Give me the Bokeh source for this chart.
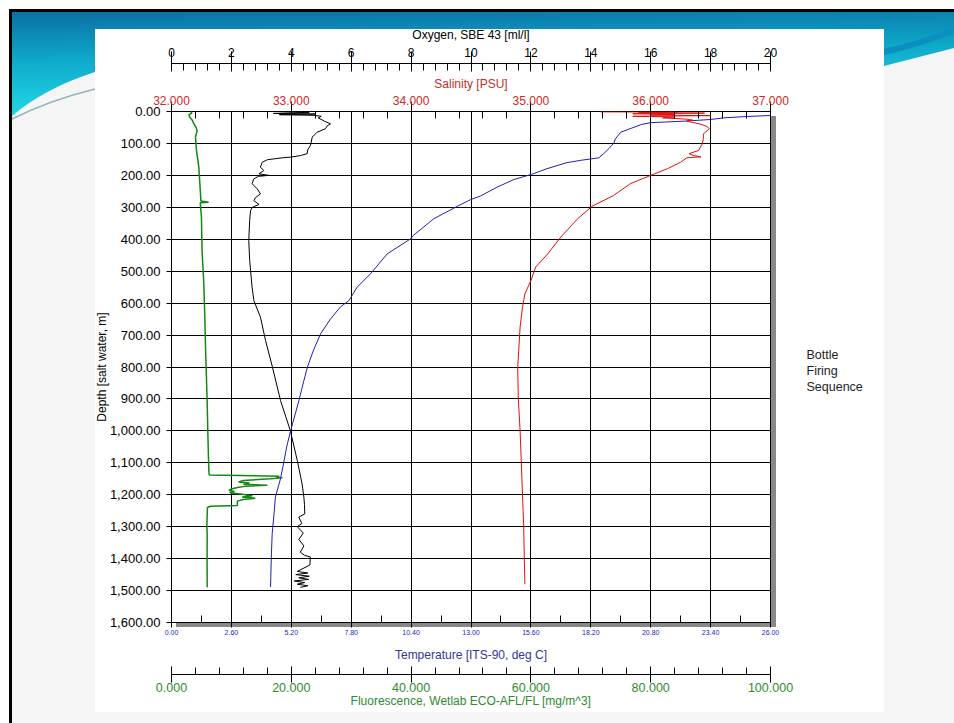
from urllib.parse import quote
from bokeh.plotting import figure
from bokeh.models import (Range1d, LinearAxis, Grid, FixedTicker, SingleIntervalTicker,
                          NumeralTickFormatter)
from bokeh.embed import file_html
from bokeh.resources import INLINE

# ---------------- data ----------------
temp_depth = [0, 5, 10, 12.5, 15.6, 19.9, 25, 30, 33, 35, 40.7, 54, 65, 85.5, 99, 115, 132, 145, 153,
              160, 179, 197, 213, 237, 265, 276, 297, 336, 388, 399, 446, 508, 550, 592, 612, 650,
              696, 750, 800, 850, 905, 1000, 1050, 1100, 1150, 1208, 1260, 1322, 1400, 1489]
temp_vals = [26.6, 26.4, 26.2, 26.0, 25.0, 23.97, 23.4, 22.3, 21.4, 20.8, 20.4, 19.9, 19.5, 19.27, 19.2,
             19.0, 18.76, 18.55, 17.75, 17.17, 16.3, 15.62, 14.86, 14.13, 13.4, 12.98, 12.4, 11.38,
             10.5, 10.37, 9.36, 8.64, 8.06, 7.7, 7.33, 6.9, 6.47, 6.15, 5.9, 5.72, 5.53, 5.17, 5.0,
             4.87, 4.73, 4.51, 4.45, 4.37, 4.33, 4.3]

sal_depth = [1, 2, 3, 5, 7, 9, 11, 13, 15, 17, 20, 24, 27, 30, 40, 47, 54, 70, 85, 101, 122, 132, 138,
             142, 145, 159, 179, 200, 226, 263, 297, 336, 393, 446, 487, 529, 571, 613, 675, 738, 800,
             900, 1000, 1100, 1200, 1300, 1400, 1480]
sal_vals = [35.58, 36.22, 35.9, 36.45, 35.85, 36.2, 36.0, 36.5, 35.85, 36.2, 36.1, 36.3, 36.35, 36.30,
            36.42, 36.47, 36.49, 36.44, 36.44, 36.43, 36.40, 36.32, 36.36, 36.42, 36.3, 36.25, 36.14,
            36.0, 35.83, 35.69, 35.51, 35.39, 35.25, 35.14, 35.04, 35.0, 34.95, 34.93, 34.91, 34.90,
            34.89, 34.895, 34.91, 34.92, 34.93, 34.94, 34.945, 34.95]

oxy_depth = [0, 4, 6, 8, 10, 12, 15, 20, 30, 38.6, 45, 54, 65, 80, 106, 120, 132, 138, 143, 145, 151,
             159, 174, 185, 195, 200, 203, 211, 226, 242, 258, 270, 279, 291, 300, 310, 341, 404, 466,
             550, 592, 644, 717, 800, 905, 1000, 1093, 1166, 1208, 1230, 1260, 1270, 1290, 1300, 1320,
             1340, 1360, 1380, 1390, 1395, 1420, 1440, 1445, 1450, 1455, 1460, 1465, 1470, 1475, 1480,
             1485, 1490]
oxy_vals = [3.5, 4.6, 3.4, 4.8, 3.6, 4.75, 5.0, 4.9, 5.1, 5.31, 5.2, 5.14, 4.86, 4.70, 4.64, 4.55, 4.53,
            4.31, 3.97, 3.70, 3.20, 3.03, 2.97, 3.08, 2.92, 3.25, 2.9, 2.75, 2.69, 2.86, 2.97, 2.8, 2.75,
            2.92, 2.7, 2.64, 2.61, 2.58, 2.61, 2.69, 2.75, 2.97, 3.14, 3.37, 3.64, 3.97, 4.20, 4.36, 4.42,
            4.44, 4.45, 4.25, 4.35, 4.2, 4.4, 4.25, 4.42, 4.3, 4.45, 4.64, 4.62, 4.2, 4.55, 4.15, 4.6,
            4.25, 4.58, 4.1, 4.45, 4.2, 4.55, 4.3]

fl_depth = [0, 5, 10, 18, 28, 38, 50, 60, 80, 122, 174, 258, 280, 284, 286, 331, 435, 540, 644, 738,
            905, 1009, 1124, 1138, 1142, 1145, 1147, 1150, 1155, 1160, 1163, 1167, 1170, 1173, 1177,
            1182, 1186, 1190, 1194, 1198, 1203, 1207, 1211, 1215, 1220, 1234, 1236, 1240, 1300, 1322,
            1400, 1479, 1490]
fl_vals = [3.2, 3.4, 2.9, 3.06, 3.5, 3.72, 4.1, 4.29, 4.0, 4.17, 4.56, 4.84, 4.9, 6.2, 4.8, 5.0, 5.1,
           5.4, 5.56, 5.68, 5.95, 6.07, 6.23, 6.3, 18.0, 17.5, 18.5, 16.5, 12.0, 11.2, 13.0, 12.0, 16.0,
           12.5, 11.0, 10.0, 9.6, 10.5, 9.7, 11.5, 13.5, 11.8, 14.0, 12.0, 11.0, 11.0, 6.5, 6.0, 5.9,
           5.96, 5.94, 5.96, 5.95]

temp_ticks = [0.0, 2.6, 5.2, 7.8, 10.4, 13.0, 15.6, 18.2, 20.8, 23.4, 26.0]
temp_minor = [1.3, 3.9, 6.5, 9.1, 11.7, 14.3, 16.9, 19.5, 22.1, 24.7]
side_text = ["Bottle", "Firing", "Sequence"]

FONT = "Liberation Sans"
FRAME_TOP, FRAME_H, DEPTH_MAX = 111, 511, 1600

# ---------------- slide background (decoration only, as CSS) ----------------
bg_svg = """<svg xmlns='http://www.w3.org/2000/svg' width='954' height='723'>
<defs><linearGradient id='g' x1='0' y1='0' x2='0.15' y2='1'>
<stop offset='0' stop-color='#0a70a4'/><stop offset='0.45' stop-color='#0ea8c9'/>
<stop offset='1' stop-color='#22dbe6'/></linearGradient></defs>
<rect width='954' height='723' fill='#ffffff'/>
<rect x='12' y='12' width='942' height='711' fill='#f5f5f5'/>
<path d='M12 12 L954 12 L954 48 Q915 58 884 66 L884 29 L95 29 L95 72 Q45 88 12 116 Z' fill='url(#g)'/>
<path d='M954 30 Q920 44 884 52' stroke='#0b8fc0' stroke-width='6' fill='none'/>
<path d='M12 119 Q50 100 95 89' stroke='#8fb4ba' stroke-width='1.5' fill='none'/>
<rect x='9' y='9' width='945' height='3' fill='#000000'/>
<rect x='9' y='9' width='3' height='714' fill='#000000'/>
<rect x='95' y='29' width='789' height='683' fill='#ffffff'/>
<rect x='176' y='116' width='600' height='511' fill='#888888'/>
</svg>"""
bg_uri = "data:image/svg+xml," + quote(bg_svg)

p = figure(width=954, height=723, x_range=Range1d(0, 26), y_range=Range1d(DEPTH_MAX, 0),
           output_backend="svg", toolbar_location=None, x_axis_type=None, y_axis_type=None,
           min_border_left=171, min_border_right=184, min_border_top=FRAME_TOP, min_border_bottom=101)
p.extra_x_ranges = {"sal": Range1d(32, 37), "oxy": Range1d(0, 20), "fl": Range1d(0, 100)}
p.background_fill_color = "white"
p.border_fill_color = None
p.outline_line_color = "black"
p.styles = {"background-image": f'url("{bg_uri}")', "background-repeat": "no-repeat"}

# ---------------- grids ----------------
p.add_layout(Grid(dimension=0, ticker=FixedTicker(ticks=temp_ticks), grid_line_color="black"))
p.add_layout(Grid(dimension=1, ticker=SingleIntervalTicker(interval=100, num_minor_ticks=0),
                  grid_line_color="black"))

# ---------------- axes ----------------
def style(ax, size, color, title_color, title_size="12px"):
    ax.major_label_text_font = FONT
    ax.major_label_text_font_size = size
    ax.major_label_text_color = color
    ax.axis_label_text_font = FONT
    ax.axis_label_text_font_size = title_size
    ax.axis_label_text_font_style = "normal"
    ax.axis_label_text_color = title_color

def spacer(range_name, tick, gap, where):
    # an empty panel between two stacked axes: one white tick and no label text
    ax = LinearAxis(x_range_name=range_name, ticker=FixedTicker(ticks=[tick]),
                    major_label_overrides={tick: ""}, axis_line_color=None,
                    major_tick_line_color="white", minor_tick_line_color=None,
                    major_tick_out=gap, major_tick_in=0, major_label_standoff=0)
    p.add_layout(ax, where)

depth_ax = LinearAxis(ticker=SingleIntervalTicker(interval=100, num_minor_ticks=0),
                      formatter=NumeralTickFormatter(format="0,0.00"),
                      axis_label="Depth [salt water, m]", major_tick_out=5, major_tick_in=0,
                      minor_tick_out=0, major_label_standoff=6, axis_label_standoff=-2)
style(depth_ax, "13px", "black", "black")
p.add_layout(depth_ax, "left")

# the "Bottle Firing Sequence" note at the right, as tick labels of a bare right axis
note_rows = [354, 370, 386]
note_depths = [(r - FRAME_TOP) * DEPTH_MAX / FRAME_H for r in note_rows]
note_ax = LinearAxis(ticker=FixedTicker(ticks=note_depths),
                     major_label_overrides=dict(zip(note_depths, side_text)),
                     axis_line_color=None, major_tick_line_color=None, minor_tick_line_color=None,
                     major_tick_out=0, major_tick_in=0, major_label_standoff=36)
style(note_ax, "12.5px", "#222222", "#222222")
p.add_layout(note_ax, "right")

temp_ax = LinearAxis(ticker=FixedTicker(ticks=temp_ticks, minor_ticks=temp_minor),
                     formatter=NumeralTickFormatter(format="0.00"),
                     axis_label="Temperature [ITS-90, deg C]", axis_line_color=None,
                     major_tick_out=5, major_tick_in=0, minor_tick_in=7, minor_tick_out=0,
                     major_label_standoff=2, axis_label_standoff=10)
style(temp_ax, "7px", "#2424c8", "#3434a0")
p.add_layout(temp_ax, "below")

spacer("fl", 50.5, 10, "below")

fl_ax = LinearAxis(x_range_name="fl", ticker=SingleIntervalTicker(interval=20, num_minor_ticks=5),
                   formatter=NumeralTickFormatter(format="0.000"),
                   axis_label="Fluorescence, Wetlab ECO-AFL/FL [mg/m^3]",
                   major_tick_in=8, major_tick_out=8, minor_tick_in=7, minor_tick_out=0,
                   major_label_standoff=0, axis_label_standoff=-1)
style(fl_ax, "12.5px", "#2e8b2e", "#2e8b2e")
p.add_layout(fl_ax, "below")

sal_ax = LinearAxis(x_range_name="sal", ticker=SingleIntervalTicker(interval=1, num_minor_ticks=5),
                    formatter=NumeralTickFormatter(format="0.000"), axis_label="Salinity [PSU]",
                    axis_line_color=None, major_tick_in=0, major_tick_out=10, minor_tick_in=7,
                    minor_tick_out=0, major_label_standoff=-3, axis_label_standoff=2)
style(sal_ax, "12px", "#d02828", "#c03030")
p.add_layout(sal_ax, "above")

spacer("sal", 34.55, 10, "above")

oxy_ax = LinearAxis(x_range_name="oxy", ticker=SingleIntervalTicker(interval=2, num_minor_ticks=5),
                    formatter=NumeralTickFormatter(format="0"), axis_label="Oxygen, SBE 43 [ml/l]",
                    major_tick_in=8, major_tick_out=12, minor_tick_in=7, minor_tick_out=0,
                    major_label_standoff=-5, axis_label_standoff=3)
style(oxy_ax, "12px", "black", "black")
p.add_layout(oxy_ax, "above")

# ---------------- traces ----------------
p.line(fl_vals, fl_depth, x_range_name="fl", line_color="#138813", line_width=1.5)
p.line(oxy_vals, oxy_depth, x_range_name="oxy", line_color="black", line_width=1)
p.line(temp_vals, temp_depth, line_color="#2020b8", line_width=1)
p.line(sal_vals, sal_depth, x_range_name="sal", line_color="#e01010", line_width=1)

open("out.html", "w").write(file_html(p, INLINE))
